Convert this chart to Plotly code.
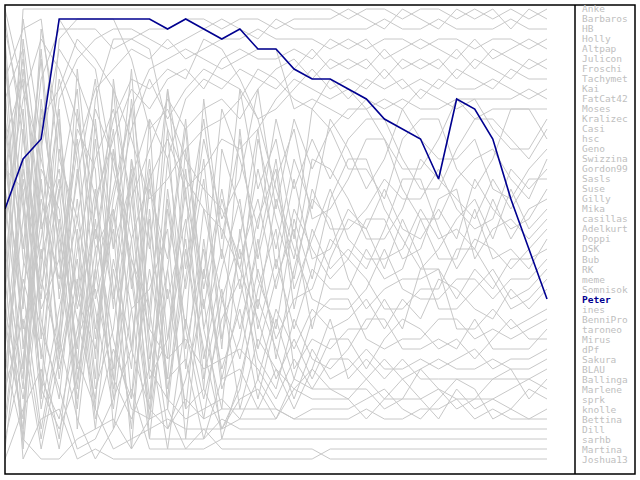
"""Tipprunde: Platzierungsverlauf aller Spieler, Peter hervorgehoben."""
import plotly.graph_objects as go

W, H = 640, 480

players = [
    "Anke", "Barbaros", "HB", "Holly", "Altpap", "Julicon", "Froschi", "Tachymet",
    "Kai", "FatCat42", "Moses", "Kralizec", "Casi", "hsc", "Geno", "Swizzina",
    "Gordon99", "Sasls", "Suse", "Gilly", "Mika", "casillas", "Adelkurt", "Poppi",
    "DSK", "Bub", "RK", "meme", "Somnisok", "Peter", "ines", "BenniPro",
    "taroneo", "Mirus", "dPf", "Sakura", "BLAU", "Ballinga", "Marlene", "sprk",
    "knolle", "Bettina", "Dill", "sarhb", "Martina", "Joshua13",
]
highlight = "Peter"

rounds = list(range(31))

# platz pro spieltag, in der reihenfolge von players
ranks = [
    [30, 1, 1, 1, 1, 1, 1, 1, 1, 1, 1, 1, 1, 1, 1, 1, 1, 1, 1, 2, 1, 1, 2, 1, 1, 2, 1, 2, 1, 2, 1],
    [12, 25, 8, 3, 3, 3, 5, 4, 3, 3, 2, 2, 3, 2, 2, 3, 2, 2, 2, 1, 2, 3, 1, 2, 3, 1, 2, 1, 3, 1, 2],
    [40, 18, 30, 10, 6, 4, 3, 3, 4, 5, 4, 3, 2, 3, 4, 2, 3, 3, 3, 3, 3, 2, 3, 3, 2, 3, 3, 3, 2, 3, 3],
    [5, 35, 20, 28, 15, 9, 7, 5, 6, 4, 6, 5, 4, 4, 3, 4, 4, 4, 5, 4, 5, 4, 4, 5, 4, 4, 5, 4, 4, 5, 4],
    [22, 10, 4, 7, 12, 20, 14, 9, 11, 8, 7, 9, 6, 5, 6, 6, 5, 6, 4, 5, 4, 6, 5, 4, 5, 6, 4, 6, 5, 4, 5],
    [33, 42, 15, 5, 8, 13, 25, 18, 12, 16, 10, 8, 9, 7, 8, 9, 7, 5, 7, 6, 7, 5, 7, 6, 7, 5, 7, 5, 6, 7, 6],
    [18, 6, 22, 38, 25, 16, 11, 20, 15, 10, 13, 11, 10, 12, 9, 7, 6, 8, 6, 7, 6, 8, 6, 7, 6, 8, 6, 7, 8, 6, 7],
    [2, 14, 26, 18, 30, 35, 22, 13, 8, 12, 9, 7, 8, 9, 12, 11, 9, 7, 9, 8, 9, 7, 9, 8, 9, 7, 8, 9, 7, 8, 8],
    [45, 30, 12, 9, 4, 6, 9, 14, 20, 18, 15, 13, 12, 10, 7, 8, 10, 11, 8, 10, 8, 9, 8, 10, 8, 9, 9, 8, 9, 10, 9],
    [8, 3, 2, 16, 22, 11, 16, 24, 18, 14, 19, 17, 14, 15, 13, 10, 8, 9, 10, 9, 11, 10, 11, 9, 10, 11, 10, 10, 10, 9, 10],
    [26, 38, 10, 25, 40, 28, 19, 11, 7, 6, 5, 6, 7, 6, 5, 5, 11, 10, 11, 12, 10, 11, 10, 11, 11, 10, 12, 11, 11, 11, 11],
    [14, 8, 34, 12, 30, 19, 38, 16, 25, 9, 27, 14, 22, 18, 9, 21, 12, 17, 13, 11, 11, 14, 17, 17, 14, 10, 10, 13, 15, 15, 12],
    [37, 22, 6, 30, 18, 8, 25, 7, 33, 9, 20, 28, 11, 16, 23, 12, 19, 14, 18, 14, 12, 12, 16, 19, 19, 15, 12, 12, 14, 16, 13],
    [3, 12, 40, 22, 35, 14, 31, 10, 24, 40, 23, 12, 26, 9, 19, 14, 24, 11, 13, 17, 17, 20, 14, 12, 12, 17, 19, 16, 11, 11, 14],
    [28, 44, 18, 34, 7, 24, 13, 35, 19, 26, 12, 31, 20, 27, 17, 25, 16, 21, 12, 15, 19, 16, 11, 14, 16, 16, 14, 19, 20, 17, 15],
    [10, 5, 28, 35, 20, 38, 15, 28, 42, 21, 33, 10, 24, 14, 26, 18, 13, 22, 21, 18, 14, 14, 19, 22, 22, 18, 16, 15, 18, 20, 16],
    [42, 27, 5, 26, 14, 33, 21, 40, 18, 36, 15, 29, 19, 29, 14, 22, 28, 19, 23, 23, 21, 18, 20, 20, 17, 21, 23, 22, 17, 19, 17],
    [16, 33, 24, 11, 38, 27, 9, 29, 16, 34, 24, 39, 15, 21, 31, 20, 26, 16, 17, 20, 24, 24, 21, 16, 18, 20, 22, 18, 21, 18, 18],
    [24, 2, 14, 36, 11, 25, 40, 16, 31, 13, 37, 21, 30, 24, 13, 27, 18, 26, 25, 21, 23, 19, 23, 24, 21, 24, 18, 21, 23, 22, 19],
    [35, 16, 36, 19, 37, 12, 29, 43, 22, 38, 17, 33, 25, 33, 25, 16, 29, 24, 19, 24, 26, 26, 25, 21, 24, 23, 25, 20, 24, 21, 20],
    [7, 20, 39, 15, 24, 41, 8, 22, 37, 16, 29, 18, 35, 13, 28, 33, 22, 28, 20, 16, 16, 21, 24, 27, 25, 22, 20, 24, 19, 23, 21],
    [31, 40, 27, 4, 2, 2, 2, 6, 13, 11, 16, 19, 21, 26, 20, 29, 21, 25, 28, 26, 22, 22, 26, 25, 20, 19, 26, 23, 22, 24, 22],
    [19, 29, 43, 33, 17, 34, 20, 11, 36, 27, 41, 24, 38, 30, 22, 17, 31, 23, 27, 25, 27, 23, 18, 18, 23, 27, 24, 25, 27, 25, 23],
    [1, 9, 16, 24, 32, 40, 26, 35, 17, 30, 22, 36, 27, 20, 33, 26, 33, 27, 29, 29, 25, 28, 27, 22, 26, 26, 21, 26, 25, 27, 24],
    [44, 36, 22, 8, 16, 36, 15, 27, 41, 20, 35, 25, 39, 34, 24, 36, 27, 20, 22, 28, 31, 29, 28, 28, 27, 30, 27, 29, 26, 26, 25],
    [13, 24, 38, 42, 33, 21, 12, 8, 9, 7, 8, 4, 5, 8, 12, 19, 25, 30, 31, 31, 29, 25, 29, 30, 30, 28, 28, 30, 28, 28, 26],
    [29, 11, 32, 40, 23, 39, 33, 18, 44, 27, 13, 33, 41, 23, 35, 28, 23, 33, 26, 22, 23, 27, 22, 26, 31, 31, 29, 27, 30, 29, 27],
    [9, 31, 3, 13, 43, 27, 39, 24, 40, 19, 33, 42, 30, 36, 27, 34, 30, 29, 24, 26, 28, 31, 31, 29, 29, 25, 25, 28, 31, 30, 28],
    [38, 17, 29, 19, 9, 30, 23, 45, 21, 39, 28, 16, 34, 25, 38, 31, 35, 31, 33, 32, 30, 33, 30, 32, 28, 29, 31, 32, 29, 31, 29],
    [21, 16, 14, 2, 2, 2, 2, 2, 2, 3, 2, 3, 4, 3, 5, 5, 7, 8, 8, 9, 10, 12, 13, 14, 18, 10, 11, 14, 20, 25, 30],
    [11, 45, 25, 37, 28, 43, 27, 37, 12, 41, 25, 35, 43, 39, 29, 23, 37, 34, 35, 33, 33, 30, 33, 27, 27, 33, 33, 31, 33, 32, 31],
    [34, 4, 19, 29, 13, 17, 43, 31, 29, 23, 44, 27, 37, 31, 40, 32, 38, 32, 30, 30, 34, 35, 34, 34, 32, 32, 34, 33, 34, 33, 32],
    [20, 37, 11, 23, 39, 22, 37, 20, 34, 45, 32, 40, 32, 28, 36, 39, 32, 36, 37, 35, 32, 32, 35, 35, 34, 35, 32, 35, 35, 35, 33],
    [43, 28, 35, 44, 29, 10, 4, 4, 5, 13, 18, 21, 23, 27, 32, 38, 34, 38, 34, 34, 37, 34, 32, 33, 35, 34, 36, 34, 32, 34, 34],
    [6, 21, 41, 31, 22, 31, 41, 26, 31, 43, 38, 30, 44, 38, 30, 35, 40, 35, 38, 37, 35, 37, 37, 36, 37, 36, 35, 37, 36, 36, 35],
    [25, 39, 13, 2, 5, 7, 17, 26, 33, 36, 34, 37, 36, 35, 37, 40, 36, 39, 36, 36, 38, 36, 38, 37, 36, 37, 37, 36, 37, 37, 36],
    [41, 13, 31, 26, 41, 20, 30, 17, 38, 34, 19, 38, 29, 41, 34, 37, 39, 37, 32, 38, 36, 38, 36, 38, 38, 38, 38, 38, 38, 38, 37],
    [15, 34, 45, 36, 26, 42, 35, 40, 27, 38, 36, 44, 38, 37, 41, 37, 41, 37, 39, 39, 39, 41, 40, 37, 39, 41, 40, 38, 37, 40, 38],
    [27, 7, 23, 17, 31, 23, 34, 41, 42, 29, 41, 39, 43, 40, 39, 42, 39, 40, 40, 40, 42, 40, 38, 40, 42, 39, 41, 40, 39, 38, 39],
    [46, 41, 37, 45, 34, 29, 38, 42, 37, 40, 42, 41, 40, 42, 38, 41, 42, 41, 41, 41, 40, 39, 41, 42, 40, 38, 39, 42, 41, 39, 40],
    [4, 26, 33, 39, 45, 44, 40, 35, 41, 43, 40, 42, 41, 41, 41, 41, 42, 42, 42, 42, 41, 42, 42, 41, 41, 40, 42, 41, 42, 42, 41],
    [32, 43, 17, 21, 36, 41, 45, 44, 43, 42, 43, 43, 43, 42, 42, 42, 38, 39, 39, 40, 38, 40, 40, 40, 39, 40, 40, 40, 41, 42, 42],
    [17, 19, 39, 43, 38, 25, 21, 31, 44, 44, 44, 44, 42, 43, 43, 43, 43, 43, 43, 43, 43, 43, 43, 43, 43, 43, 43, 43, 43, 43, 43],
    [39, 32, 44, 34, 42, 46, 43, 39, 45, 45, 45, 45, 44, 44, 44, 44, 44, 44, 44, 44, 44, 44, 44, 44, 44, 44, 44, 44, 44, 44, 44],
    [23, 46, 42, 41, 46, 45, 46, 46, 46, 46, 46, 46, 46, 46, 46, 46, 46, 46, 45, 45, 45, 45, 45, 45, 45, 45, 45, 45, 45, 45, 45],
    [36, 44, 46, 46, 44, 43, 42, 45, 42, 41, 45, 43, 45, 45, 45, 45, 45, 45, 46, 46, 46, 46, 46, 46, 46, 46, 46, 46, 46, 46, 46],
]

GREY = "#c8c8c8"
BLUE = "#000090"
LABEL_GREY = "#c0c0c0"


def px(x):
    return x / W


def py(y):
    return 1 - y / H


fig = go.Figure()

# graue linien zuerst, der hervorgehobene spieler obendrauf
for name, r in zip(players, ranks):
    if name == highlight:
        continue
    fig.add_trace(go.Scatter(
        x=rounds, y=r, mode="lines", name=name,
        line=dict(color=GREY, width=1), hoverinfo="skip",
    ))
hi = players.index(highlight)
fig.add_trace(go.Scatter(
    x=rounds, y=ranks[hi], mode="lines", name=highlight,
    line=dict(color=BLUE, width=1.6), hoverinfo="skip",
))

# namensliste rechts, sortiert nach letztem platz
for name, r in zip(players, ranks):
    is_hi = name == highlight
    fig.add_annotation(
        x=px(580), xref="paper", y=r[-1], yref="y",
        text=f"<b>{name}</b>" if is_hi else name,
        showarrow=False, xanchor="left", yanchor="middle",
        font=dict(family="DejaVu Sans Mono", size=9.5,
                  color=BLUE if is_hi else LABEL_GREY),
    )

frame = dict(color="black", width=1.5)
fig.add_shape(type="rect", xref="paper", yref="paper",
              x0=px(5), x1=px(635), y0=py(474), y1=py(5), line=frame)
fig.add_shape(type="line", xref="paper", yref="paper",
              x0=px(575), x1=px(575), y0=py(474), y1=py(5), line=frame)

fig.update_layout(
    width=W, height=H,
    margin=dict(l=0, r=0, t=0, b=0),
    paper_bgcolor="white", plot_bgcolor="white",
    showlegend=False,
    xaxis=dict(domain=[px(5), px(575)], range=[0, 31.55],
               visible=False, fixedrange=True),
    yaxis=dict(domain=[py(474), py(5)], range=[47.5, 0.6],
               visible=False, fixedrange=True),
)

# body-rand weg, sonst sitzt alles 8px versetzt
fig.write_html("out.html", config={"displayModeBar": False},
               post_script="document.body.style.margin = '0';")
